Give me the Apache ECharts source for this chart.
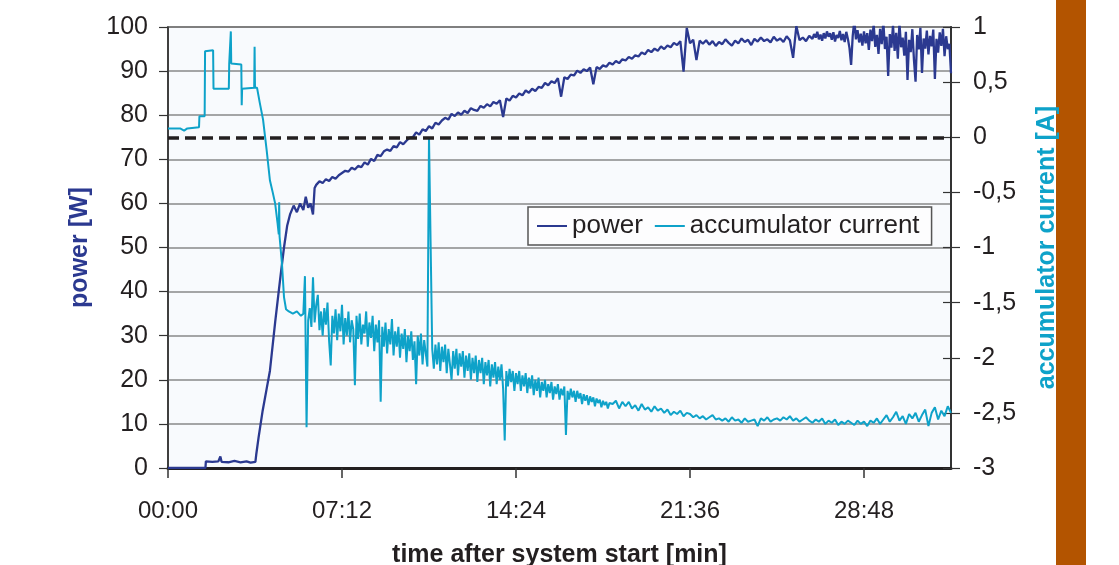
<!DOCTYPE html>
<html>
<head>
<meta charset="utf-8">
<title>power / accumulator current</title>
<script src="https://cdn.jsdelivr.net/npm/echarts@6/dist/echarts.min.js"></script>
<style>
  html, body { margin: 0; padding: 0; background: #fff; }
  #chart { width: 1119px; height: 565px; }
</style>
</head>
<body>
<div id="chart"></div>
<script>
// time in seconds after system start
const xTicks = [0, 432, 864, 1296, 1728];
const xMax = 1944;

// power [W] - start phase as [t, W]
const powerHead = [
  [0, 0], [93, 0], [94, 1.5], [110, 1.4], [125, 1.5], [130, 2.6], [133, 1.4], [150, 1.3],
  [165, 1.6], [180, 1.3], [195, 1.5], [205, 1.2], [217, 1.4], [219, 3], [225, 7], [235, 13],
  [245, 18], [253, 22], [266, 33], [278, 42.5], [288, 50], [296, 55], [303, 57.5], [312, 59.5],
  [320, 58], [328, 60], [336, 58.5], [342, 61.5], [348, 59], [354, 60], [360, 57.5], [364, 63.5]
];
// power [W] - every 8 s from t = 368 to 1592
const powerMidStart = 368;
const powerMid = [
  64.2, 65.0, 64.6, 65.5, 65.1, 66.0, 65.6, 66.4, 66.9, 67.4,
  67.2, 68.1, 67.7, 68.5, 68.2, 69.3, 68.8, 70.1, 69.6, 71.0,
  70.7, 71.8, 72.2, 71.9, 73.0, 72.7, 73.9, 73.4, 74.2, 74.9,
  75.0, 76.1, 75.6, 76.8, 76.4, 77.5, 77.0, 78.3, 77.9, 78.8,
  79.4, 79.0, 80.3, 79.8, 80.6, 80.1, 81.0, 80.5, 81.6, 81.2,
  81.0, 82.1, 81.7, 82.5, 82.0, 83.0, 82.6, 83.4, 79.6, 83.8,
  83.3, 84.4, 84.0, 84.9, 84.5, 85.6, 85.1, 86.0, 85.5, 86.4,
  86.2, 87.3, 86.8, 87.7, 87.3, 88.4, 84.2, 88.6, 88.2, 89.2,
  89.0, 90.1, 89.6, 90.4, 90.0, 90.8, 87.0, 90.9, 90.5, 91.3,
  91.0, 91.9, 91.5, 92.3, 91.8, 92.7, 92.4, 93.2, 92.8, 93.6,
  93.3, 94.2, 93.8, 94.8, 94.3, 95.1, 94.6, 95.6, 95.0, 95.8,
  95.4, 96.4, 95.9, 96.8, 89.9, 99.8, 96.3, 97.1, 92.5, 96.9,
  96.2, 97.0, 96.0, 96.8, 95.7, 96.6, 96.1, 97.2, 96.4, 95.8,
  96.9, 96.3, 97.4, 96.6, 97.1, 95.9, 97.3, 96.7, 97.6, 96.8,
  97.2, 96.5, 97.8, 96.9, 97.4, 96.6, 97.9, 97.0, 93.0, 100.2,
  97.0, 97.6, 96.8, 98.0
];
// power [W] - every 4 s from t = 1600 (noisier end phase)
const powerEndStart = 1600;
const powerEnd = [
  97.3, 98.4, 97.6, 98.9, 97.2, 98.3, 96.9, 98.6, 97.4, 99.0,
  97.8, 98.6, 97.1, 98.8, 96.7, 98.2, 97.5, 99.1, 97.0, 98.4,
  96.6, 98.9, 97.3, 95.2, 91.4, 98.0, 101.5, 97.2, 99.3, 96.5,
  98.5, 95.8, 99.0, 96.3, 98.6, 94.8, 99.4, 96.8, 100.6, 95.5,
  98.2, 93.9, 99.6, 96.1, 101.2, 95.0, 97.8, 88.9, 98.4, 95.3,
  100.4, 94.6, 98.7, 92.8, 100.9, 95.4, 97.6, 93.5, 98.9, 88.0,
  97.1, 94.3, 99.5, 92.6, 87.6, 98.2, 94.9, 99.8, 89.6, 97.4,
  95.1, 99.2, 93.8, 98.0, 95.6, 99.4, 88.2, 97.3, 94.2, 98.8,
  95.7, 99.6, 93.4, 97.9, 95.0, 96.2, 89.5
];

// accumulator current [A] - start phase as [t, A]
const currentHead = [
  [0, 0.08], [30, 0.08], [40, 0.06], [48, 0.08], [77, 0.09], [78, 0.19], [91, 0.19], [92, 0.78],
  [112, 0.79], [113, 0.44], [151, 0.44], [152, 0.67], [155, 0.67], [156, 0.96], [157, 0.67], [182, 0.66],
  [183, 0.29], [184, 0.44], [214, 0.45], [215, 0.82], [216, 0.45], [221, 0.45], [228, 0.31], [236, 0.16],
  [245, -0.12], [253, -0.39], [260, -0.5], [266, -0.6], [272, -0.78], [275, -0.88], [276, -0.59], [277, -0.9],
  [283, -1.15], [288, -1.45], [293, -1.56], [300, -1.58], [310, -1.6], [320, -1.58], [330, -1.62]
];
// accumulator current [A] - every 4 s from t = 336 to 1096 (noisy phase)
const currentMidStart = 336;
const currentMid = [
  -1.60, -1.26, -2.63, -1.66, -1.55, -1.72, -1.27, -1.68, -1.52, -1.43,
  -1.75, -1.58, -1.80, -1.55, -1.70, -1.50, -1.85, -2.07, -1.62, -1.78,
  -1.56, -1.84, -1.60, -1.76, -1.52, -1.88, -1.64, -1.80, -1.58, -1.86,
  -1.66, -1.74, -2.25, -1.62, -1.83, -1.60, -1.88, -1.70, -1.78, -1.58,
  -1.90, -1.68, -1.82, -1.62, -1.94, -1.70, -1.86, -1.66, -2.40, -1.72,
  -1.90, -1.68, -1.96, -1.74, -1.88, -1.65, -1.98, -1.76, -1.90, -1.72,
  -2.00, -1.78, -1.92, -1.74, -2.04, -1.80, -1.94, -1.76, -2.02, -1.85,
  -2.24, -1.80, -1.98, -1.78, -2.06, -1.84, -1.96, -2.08, 0.00, 0.00,
  -1.92, -2.10, -1.88, -2.06, -1.86, -2.12, -1.90, -2.04, -1.88, -2.14,
  -1.92, -2.06, -2.20, -1.94, -2.10, -1.92, -2.16, -1.96, -2.08, -1.94,
  -2.18, -1.98, -2.12, -1.96, -2.20, -2.00, -2.14, -1.98, -2.22, -2.02,
  -2.14, -2.00, -2.24, -2.04, -2.16, -2.02, -2.26, -2.06, -2.18, -2.04,
  -2.24, -2.08, -2.20, -2.06, -2.28, -2.75, -2.12, -2.26, -2.10, -2.22,
  -2.12, -2.30, -2.14, -2.24, -2.12, -2.30, -2.16, -2.26, -2.14, -2.32,
  -2.18, -2.28, -2.16, -2.34, -2.20, -2.30, -2.18, -2.36, -2.22, -2.30,
  -2.20, -2.36, -2.24, -2.32, -2.22, -2.38, -2.26, -2.33, -2.24, -2.38,
  -2.28, -2.34, -2.26, -2.70, -2.30, -2.38, -2.28, -2.36, -2.30, -2.40,
  -2.30, -2.37, -2.32, -2.42, -2.33, -2.39, -2.34, -2.43, -2.35, -2.40,
  -2.36, -2.44, -2.37, -2.41, -2.38, -2.45, -2.39, -2.43, -2.40, -2.46,
  -2.41
];
// accumulator current [A] - every 8 s from t = 1104
const currentEndStart = 1104;
const currentEnd = [
  -2.42, -2.39, -2.46, -2.40,
  -2.44, -2.40, -2.46, -2.43, -2.48, -2.42, -2.47, -2.45, -2.49, -2.44,
  -2.48, -2.46, -2.50, -2.47, -2.52, -2.49, -2.51, -2.48, -2.53, -2.50,
  -2.51, -2.54, -2.52, -2.55, -2.53, -2.56, -2.54, -2.52, -2.56, -2.55,
  -2.57, -2.55, -2.58, -2.54, -2.57, -2.56, -2.59, -2.55, -2.58, -2.57,
  -2.56, -2.62, -2.55, -2.57, -2.54, -2.58, -2.56, -2.55, -2.57, -2.54,
  -2.56, -2.53, -2.57, -2.55, -2.58, -2.56, -2.54, -2.57, -2.59, -2.56,
  -2.58, -2.55, -2.60, -2.57, -2.59, -2.56, -2.61, -2.58, -2.60, -2.57,
  -2.59, -2.61, -2.57, -2.60, -2.58, -2.62, -2.57, -2.59, -2.55, -2.60,
  -2.56, -2.52, -2.58, -2.54, -2.49, -2.57, -2.53, -2.60, -2.51, -2.55,
  -2.50, -2.58, -2.52, -2.47, -2.62, -2.50, -2.45, -2.56, -2.48, -2.53,
  -2.44, -2.50
];

// reference line of the current axis
const zeroCurrent = 0;

const textColor = '#231f20';
const powerColor = '#2b3990';
const currentColor = '#0ea2c9';
const fontFamily = 'Liberation Sans, Arial, sans-serif';

function sampled(start, step, values) {
  return values.map((v, i) => [start + i * step, v]);
}
function mmss(v) {
  const m = Math.floor(v / 60), s = Math.round(v % 60);
  return String(m).padStart(2, '0') + ':' + String(s).padStart(2, '0');
}

const powerData = powerHead.concat(
  sampled(powerMidStart, 8, powerMid),
  sampled(powerEndStart, 4, powerEnd)
);
const currentData = currentHead.concat(
  sampled(currentMidStart, 4, currentMid),
  sampled(currentEndStart, 8, currentEnd)
);

const chart = echarts.init(document.getElementById('chart'), null, {renderer: 'canvas'});

const option = {
  backgroundColor: '#ffffff',
  animation: false,
  textStyle: {fontFamily: fontFamily},
  graphic: [{
    type: 'rect',
    left: 1056, top: 0,
    shape: {width: 30, height: 565},
    style: {fill: '#b35400'},
    silent: true
  }],
  grid: {
    left: 168, right: 168, top: 27, bottom: 97,
    outerBoundsMode: 'none',
    show: true,
    backgroundColor: '#f8fafd',
    borderColor: '#333',
    borderWidth: 1.5
  },
  legend: {
    left: 528, top: 207,
    padding: [6, 12, 6, 9],
    itemGap: 12,
    itemWidth: 30,
    itemHeight: 2,
    backgroundColor: '#fdfdfe',
    borderColor: '#555',
    borderWidth: 1.5,
    textStyle: {fontSize: 26, color: textColor, fontFamily: fontFamily},
    data: [{name: 'power', icon: 'rect'}, {name: 'accumulator current', icon: 'rect'}]
  },
  xAxis: {
    type: 'value',
    min: 0, max: xMax, interval: 432,
    name: 'time after system start [min]',
    nameLocation: 'middle',
    nameGap: 75,
    nameTextStyle: {fontSize: 25, fontWeight: 'bold', color: textColor},
    axisLine: {show: true, lineStyle: {color: textColor, width: 3}},
    axisTick: {show: true, length: 10, lineStyle: {color: '#333', width: 1.5}},
    axisLabel: {
      fontSize: 24, color: textColor, margin: 31,
      showMaxLabel: false,
      formatter: v => xTicks.indexOf(v) >= 0 ? mmss(v) : ''
    },
    splitLine: {show: false}
  },
  yAxis: [{
    type: 'value',
    position: 'left',
    min: 0, max: 100, interval: 10,
    name: 'power [W]',
    nameLocation: 'middle',
    nameGap: 75,
    nameTextStyle: {fontSize: 25, fontWeight: 'bold', color: powerColor},
    axisLine: {show: true, lineStyle: {color: '#333', width: 1.5}},
    axisTick: {show: true, length: 9, lineStyle: {color: '#333', width: 1.2}},
    axisLabel: {fontSize: 25, color: textColor, margin: 20},
    splitLine: {show: true, lineStyle: {color: '#888', width: 1.5}}
  }, {
    type: 'value',
    position: 'right',
    min: -3, max: 1, interval: 0.5,
    name: 'accumulator current [A]',
    nameLocation: 'middle',
    nameGap: 84,
    nameTextStyle: {fontSize: 25, fontWeight: 'bold', color: currentColor},
    axisLine: {show: true, lineStyle: {color: '#333', width: 2}},
    axisTick: {show: true, length: 9, lineStyle: {color: '#333', width: 1.2}},
    axisLabel: {
      fontSize: 25, color: textColor, margin: 22,
      formatter: v => String(v).replace('.', ',')
    },
    splitLine: {show: false}
  }, {
    // inner half of the right axis ticks
    type: 'value',
    position: 'right',
    min: -3, max: 1, interval: 0.5,
    axisLine: {show: false},
    axisTick: {show: true, inside: true, length: 8, lineStyle: {color: '#333', width: 1.2}},
    axisLabel: {show: false},
    splitLine: {show: false}
  }],
  series: [{
    name: 'power',
    type: 'line',
    yAxisIndex: 0,
    data: powerData,
    showSymbol: false,
    lineStyle: {color: powerColor, width: 2.3},
    itemStyle: {color: powerColor}
  }, {
    name: 'accumulator current',
    type: 'line',
    yAxisIndex: 1,
    data: currentData,
    showSymbol: false,
    lineStyle: {color: currentColor, width: 2},
    itemStyle: {color: currentColor},
    markLine: {
      silent: true,
      symbol: 'none',
      label: {show: false},
      lineStyle: {color: textColor, type: [11, 6], width: 3.5},
      data: [{yAxis: zeroCurrent}]
    }
  }]
};

chart.setOption(option);
window.addEventListener('resize', function () {
  chart.resize();
});
</script>
</body>
</html>
